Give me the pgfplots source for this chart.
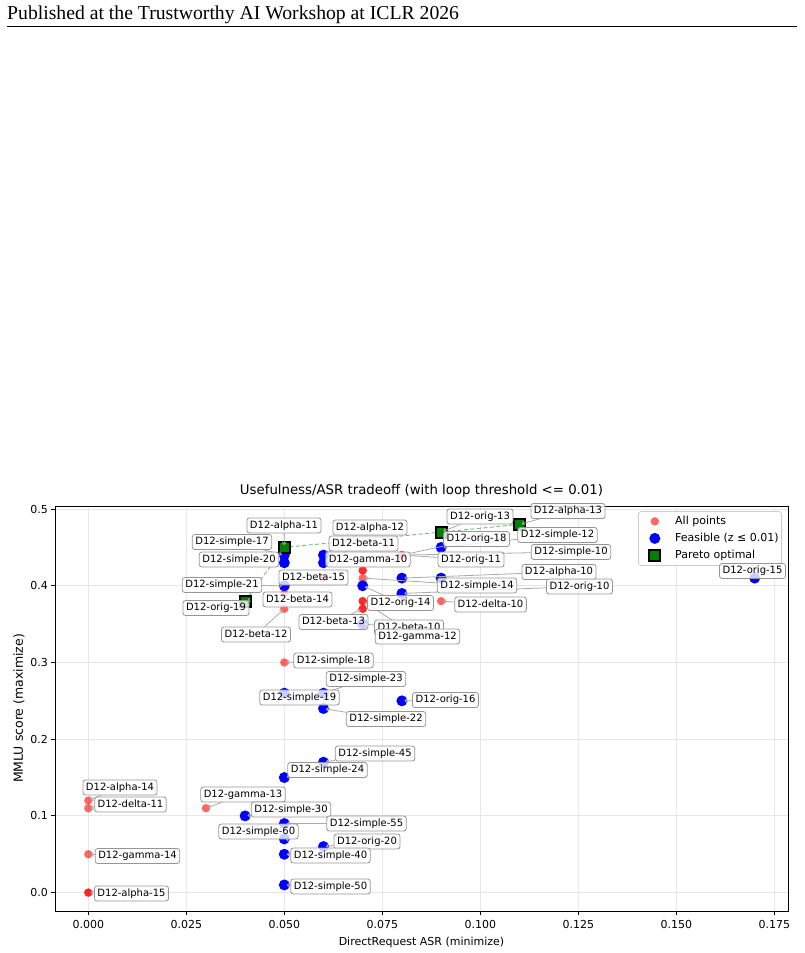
\documentclass[border=0pt]{standalone}
\usepackage{fontspec}
\setmainfont{DejaVu Sans}
\newfontfamily\headfont{Liberation Serif}
\usepackage{pgfplots}
\pgfplotsset{compat=1.18}
\usetikzlibrary{arrows.meta}

\definecolor{allred}{RGB}{255,0,0}
\definecolor{feasblue}{RGB}{0,0,255}
\definecolor{paretogreen}{RGB}{0,128,0}
\definecolor{gridgray}{RGB}{231,231,231}
\definecolor{boxedge}{RGB}{150,150,150}
\definecolor{arrowgray}{RGB}{170,170,170}

\pgfplotsset{
  % single marker with a fixed-width legend cell
  dotlegend/.style={legend image code/.code={%
    \path (0pt,0pt) (30pt,0pt);
    \draw[##1] plot coordinates {(13pt,0pt)};}},
}

\tikzset{
  lbl/.style={draw=boxedge, line width=0.8pt, rounded corners=2.5pt,
    fill=white, fill opacity=0.8, text opacity=1,
    inner xsep=3pt, inner ysep=2.5pt, text height=7.6pt, text depth=2.4pt,
    font=\fontsize{10}{12}\selectfont},
  arr/.style={draw=arrowgray, line width=0.8pt, -{To[length=3pt,width=4.5pt]}, shorten >=2.5pt},
}

\begin{document}
\begin{tikzpicture}[x=1pt,y=1pt]
\path (0,0) rectangle (804,-953);
\node[anchor=base west, inner sep=0pt, font=\headfont\fontsize{19.7}{23}\selectfont] at (7,-19.5) {Published at the Trustworthy AI Workshop at ICLR 2026};
\draw[line width=1pt] (7,-26.7) -- (797,-26.7);

\begin{axis}[
  at={(55pt,-911pt)}, anchor=south west,
  scale only axis, width=733pt, height=405pt,
  xmin=-0.0085, xmax=0.1785, ymin=-0.024, ymax=0.504,
  axis line style={line width=0.9pt},
  tick align=outside, major tick length=3.5pt,
  tick style={line width=0.8pt, black},
  tick pos=left,
  xtick={0,0.025,0.05,0.075,0.1,0.125,0.15,0.175},
  xticklabels={0.000,0.025,0.050,0.075,0.100,0.125,0.150,0.175},
  ytick={0,0.1,0.2,0.3,0.4,0.5},
  yticklabels={0.0,0.1,0.2,0.3,0.4,0.5},
  grid=major, major grid style={draw=gridgray, line width=0.8pt},
  ticklabel style={font=\fontsize{11}{13}\selectfont},
  xticklabel style={yshift=-2.5pt},
  title={Usefulness/ASR tradeoff (with loop threshold <= 0.01)},
  title style={at={(axis description cs:0.5,1.0136)}, anchor=base, yshift=0pt, inner sep=0pt, font=\fontsize{13.3}{16}\selectfont},
  xlabel={DirectRequest ASR (minimize)},
  xlabel style={at={(axis description cs:0.5,-0.084)}, anchor=base, inner sep=0pt, font=\fontsize{11}{13}\selectfont},
  ylabel={MMLU score (maximize)},
  ylabel style={at={(axis description cs:-0.0491,0.5)}, anchor=center, inner sep=0pt, font=\fontsize{12.5}{15}\selectfont},
  legend style={at={(axis description cs:1,1)}, anchor=north east, xshift=-6pt, yshift=-5pt,
    draw=black!20, line width=0.8pt, rounded corners=3pt, fill=white,
    inner xsep=3pt, inner ysep=1.5pt, column sep=3pt,
    font=\fontsize{11}{13}\selectfont,
    nodes={text height=8.2pt, text depth=2.8pt, inner ysep=3pt, inner xsep=0pt}},
  legend cell align=left,
]
% every evaluated configuration
\addplot[only marks, dotlegend, mark=*, mark size=4.2pt, mark options={draw=allred, draw opacity=0, fill=allred, fill opacity=0.6}] coordinates {
  (0.05,0.45) (0.05,0.44) (0.05,0.43) (0.06,0.44) (0.06,0.43) (0.09,0.47) (0.11,0.48)
  (0.09,0.45) (0.07,0.40) (0.08,0.41) (0.09,0.41) (0.08,0.39) (0.17,0.41) (0.05,0.40)
  (0.04,0.38) (0.07,0.35) (0.05,0.26) (0.06,0.26) (0.06,0.24) (0.08,0.25) (0.06,0.17)
  (0.05,0.15) (0.04,0.10) (0.05,0.09) (0.05,0.07) (0.05,0.05) (0.06,0.06) (0.05,0.01)
  (0.08,0.44) (0.08,0.44) (0.07,0.42) (0.07,0.42) (0.07,0.41) (0.09,0.38) (0.07,0.38)
  (0.07,0.38) (0.07,0.37) (0.07,0.37) (0.05,0.37) (0.06,0.41) (0.05,0.39) (0.05,0.30)
  (0,0.12) (0,0.11) (0.03,0.11) (0,0.05) (0,0) (0,0)
};
\addlegendentry{All points}
% configurations within the loop threshold
\addplot[only marks, dotlegend, mark=*, mark size=5.5pt, mark options={draw=feasblue, draw opacity=0, fill=feasblue}] coordinates {
  (0.05,0.45) (0.05,0.44) (0.05,0.43) (0.06,0.44) (0.06,0.43) (0.09,0.47) (0.11,0.48)
  (0.09,0.45) (0.07,0.40) (0.08,0.41) (0.09,0.41) (0.08,0.39) (0.17,0.41) (0.05,0.40)
  (0.04,0.38) (0.07,0.35) (0.05,0.26) (0.06,0.26) (0.06,0.24) (0.08,0.25) (0.06,0.17)
  (0.05,0.15) (0.04,0.10) (0.05,0.09) (0.05,0.07) (0.05,0.05) (0.06,0.06) (0.05,0.01)
};
\addlegendentry{Feasible (z ≤ 0.01)}
% Pareto front
\addplot[forget plot, paretogreen, opacity=0.5, line width=1pt, dash pattern=on 4pt off 2.5pt] coordinates {
  (0.04,0.38) (0.05,0.45) (0.09,0.47) (0.11,0.48)
};
\addplot[only marks, dotlegend, mark=square*, mark size=5.5pt, mark options={draw=black, fill=paretogreen, line width=2pt, sharp corners, solid}] coordinates {
  (0.04,0.38) (0.05,0.45) (0.09,0.47) (0.11,0.48)
};
\addlegendentry{Pareto optimal}

% annotation anchors
\coordinate (T1) at (axis cs:0.05,0.45);
\coordinate (T2) at (axis cs:0.05,0.44);
\coordinate (T4) at (axis cs:0.06,0.44);
\coordinate (T5) at (axis cs:0.06,0.43);
\coordinate (T6) at (axis cs:0.08,0.44);
\coordinate (T7) at (axis cs:0.09,0.47);
\coordinate (T8) at (axis cs:0.11,0.48);
\coordinate (T9) at (axis cs:0.09,0.45);
\coordinate (T10) at (axis cs:0.08,0.41);
\coordinate (T11) at (axis cs:0.07,0.41);
\coordinate (T12) at (axis cs:0.08,0.39);
\coordinate (T13) at (axis cs:0.09,0.38);
\coordinate (T16) at (axis cs:0.05,0.40);
\coordinate (T18) at (axis cs:0.04,0.38);
\coordinate (T19) at (axis cs:0.05,0.37);
\coordinate (T20) at (axis cs:0.07,0.40);
\coordinate (T21) at (axis cs:0.07,0.37);
\coordinate (T22) at (axis cs:0.07,0.35);
\coordinate (T23) at (axis cs:0.07,0.38);
\coordinate (T24) at (axis cs:0.05,0.30);
\coordinate (T25) at (axis cs:0.06,0.26);
\coordinate (T27) at (axis cs:0.06,0.24);
\coordinate (T28) at (axis cs:0.08,0.25);
\coordinate (T29) at (axis cs:0.06,0.17);
\coordinate (T30) at (axis cs:0.05,0.15);
\coordinate (T31) at (axis cs:0,0.12);
\coordinate (T32) at (axis cs:0,0.11);
\coordinate (T33) at (axis cs:0.03,0.11);
\coordinate (T34) at (axis cs:0.04,0.10);
\coordinate (T35) at (axis cs:0.05,0.09);
\coordinate (T36) at (axis cs:0.05,0.07);
\coordinate (T37) at (axis cs:0.06,0.06);
\coordinate (T38) at (axis cs:0,0.05);
\coordinate (T39) at (axis cs:0.05,0.05);
\coordinate (T40) at (axis cs:0.05,0.01);
\coordinate (T41) at (axis cs:0,0);
\end{axis}

% label box centres
\path
  (284,-525.5)   coordinate (P1)
  (232,-542)     coordinate (P2)
  (239,-559.5)   coordinate (P3)
  (370,-527.5)   coordinate (P4)
  (363.5,-543.5) coordinate (P5)
  (368,-559.5)   coordinate (P6)
  (480,-516.5)   coordinate (P7)
  (568,-511)     coordinate (P8)
  (476.5,-539)   coordinate (P9)
  (557.5,-535)   coordinate (P10)
  (471,-559.5)   coordinate (P11)
  (571,-552)     coordinate (P12)
  (559,-572)     coordinate (P13)
  (477,-585.5)   coordinate (P14)
  (579.5,-586.5) coordinate (P15)
  (490.5,-604.5) coordinate (P16)
  (752.5,-571)   coordinate (P17)
  (313.5,-577.5) coordinate (P18)
  (222,-585)     coordinate (P19)
  (297.5,-599.5) coordinate (P20)
  (216,-608)     coordinate (P21)
  (256,-634.5)   coordinate (P22)
  (400.5,-603)   coordinate (P23)
  (333.5,-622)   coordinate (P24)
  (409,-627.5)   coordinate (P25)
  (417.5,-636.5) coordinate (P26)
  (333.5,-660.5) coordinate (P27)
  (366,-679)     coordinate (P28)
  (299.5,-697.5) coordinate (P29)
  (386,-719)     coordinate (P30)
  (445.5,-700)   coordinate (P31)
  (375,-753.5)   coordinate (P32)
  (327.5,-770)   coordinate (P33)
  (120,-787.5)   coordinate (P34)
  (130.5,-804.5) coordinate (P35)
  (243,-794.5)   coordinate (P36)
  (291,-809.5)   coordinate (P37)
  (366.5,-823.5) coordinate (P38)
  (258.5,-831.5) coordinate (P39)
  (367,-841.5)   coordinate (P40)
  (137.5,-856)   coordinate (P41)
  (330.5,-855.5) coordinate (P42)
  (330.5,-886.5) coordinate (P43)
  (131.5,-893.5) coordinate (P44);

% invisible copies give the arrows their start on the box border
\begin{scope}[every node/.style={lbl, draw=none, fill=none, text opacity=0}]
\node (L1) at (P1) {D12-alpha-11};
\node (L2) at (P2) {D12-simple-17};
\node (L4) at (P4) {D12-alpha-12};
\node (L5) at (P5) {D12-beta-11};
\node (L7) at (P7) {D12-orig-13};
\node (L8) at (P8) {D12-alpha-13};
\node (L9) at (P9) {D12-orig-18};
\node (L10) at (P10) {D12-simple-12};
\node (L11) at (P11) {D12-orig-11};
\node (L12) at (P12) {D12-simple-10};
\node (L13) at (P13) {D12-alpha-10};
\node (L14) at (P14) {D12-simple-14};
\node (L15) at (P15) {D12-orig-10};
\node (L16) at (P16) {D12-delta-10};
\node (L19) at (P19) {D12-simple-21};
\node (L21) at (P21) {D12-orig-19};
\node (L22) at (P22) {D12-beta-12};
\node (L23) at (P23) {D12-orig-14};
\node (L24) at (P24) {D12-beta-13};
\node (L25) at (P25) {D12-beta-10};
\node (L26) at (P26) {D12-gamma-12};
\node (L27) at (P27) {D12-simple-18};
\node (L28) at (P28) {D12-simple-23};
\node (L30) at (P30) {D12-simple-22};
\node (L31) at (P31) {D12-orig-16};
\node (L32) at (P32) {D12-simple-45};
\node (L33) at (P33) {D12-simple-24};
\node (L34) at (P34) {D12-alpha-14};
\node (L35) at (P35) {D12-delta-11};
\node (L36) at (P36) {D12-gamma-13};
\node (L37) at (P37) {D12-simple-30};
\node (L38) at (P38) {D12-simple-55};
\node (L39) at (P39) {D12-simple-60};
\node (L40) at (P40) {D12-orig-20};
\node (L41) at (P41) {D12-gamma-14};
\node (L42) at (P42) {D12-simple-40};
\node (L43) at (P43) {D12-simple-50};
\node (L44) at (P44) {D12-alpha-15};
\end{scope}

\foreach \l/\t in {1/1,2/2,4/4,5/5,7/7,8/8,9/6,10/9,11/6,12/6,13/10,14/11,15/12,16/13,
                   19/16,21/18,22/19,23/20,24/21,25/22,26/23,27/24,28/25,30/27,31/28,
                   32/29,33/30,34/31,35/32,36/33,37/34,38/35,39/36,40/37,41/38,42/39,43/40,44/41}
  \draw[arr] (L\l) -- (T\t);

\node[lbl] at (P1) {D12-alpha-11};
\node[lbl] at (P2) {D12-simple-17};
\node[lbl] at (P3) {D12-simple-20};
\node[lbl] at (P4) {D12-alpha-12};
\node[lbl] at (P5) {D12-beta-11};
\node[lbl] at (P6) {D12-gamma-10};
\node[lbl] at (P7) {D12-orig-13};
\node[lbl] at (P8) {D12-alpha-13};
\node[lbl] at (P9) {D12-orig-18};
\node[lbl] at (P10) {D12-simple-12};
\node[lbl] at (P11) {D12-orig-11};
\node[lbl] at (P12) {D12-simple-10};
\node[lbl] at (P13) {D12-alpha-10};
\node[lbl] at (P14) {D12-simple-14};
\node[lbl] at (P15) {D12-orig-10};
\node[lbl] at (P16) {D12-delta-10};
\node[lbl] at (P17) {D12-orig-15};
\node[lbl] at (P18) {D12-beta-15};
\node[lbl] at (P19) {D12-simple-21};
\node[lbl] at (P20) {D12-beta-14};
\node[lbl] at (P21) {D12-orig-19};
\node[lbl] at (P22) {D12-beta-12};
\node[lbl] at (P23) {D12-orig-14};
\node[lbl] at (P24) {D12-beta-13};
\node[lbl] at (P25) {D12-beta-10};
\node[lbl] at (P26) {D12-gamma-12};
\node[lbl] at (P27) {D12-simple-18};
\node[lbl] at (P28) {D12-simple-23};
\node[lbl] at (P29) {D12-simple-19};
\node[lbl] at (P30) {D12-simple-22};
\node[lbl] at (P31) {D12-orig-16};
\node[lbl] at (P32) {D12-simple-45};
\node[lbl] at (P33) {D12-simple-24};
\node[lbl] at (P34) {D12-alpha-14};
\node[lbl] at (P35) {D12-delta-11};
\node[lbl] at (P36) {D12-gamma-13};
\node[lbl] at (P37) {D12-simple-30};
\node[lbl] at (P38) {D12-simple-55};
\node[lbl] at (P39) {D12-simple-60};
\node[lbl] at (P40) {D12-orig-20};
\node[lbl] at (P41) {D12-gamma-14};
\node[lbl] at (P42) {D12-simple-40};
\node[lbl] at (P43) {D12-simple-50};
\node[lbl] at (P44) {D12-alpha-15};
\end{tikzpicture}
\end{document}
